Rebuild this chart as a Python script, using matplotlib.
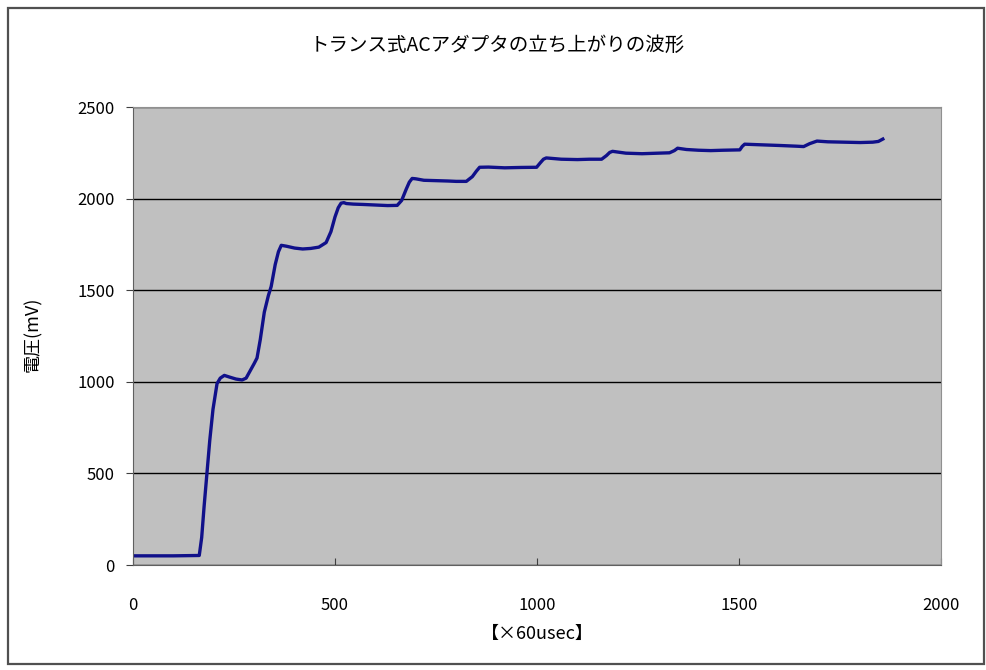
import matplotlib
matplotlib.use('Agg')
from matplotlib import pyplot as plt
from matplotlib.patches import Rectangle

plt.rcParams['font.family'] = ['Noto Sans CJK JP', 'DejaVu Sans']

# waveform (x in 60usec units, y in mV)
t = [0, 100, 164, 170, 176, 183, 190, 198, 208, 216, 226, 240, 255, 270, 280,
     290, 300, 307, 315, 325, 335, 342, 352, 360, 367, 380, 400, 420, 440, 460,
     478, 490, 500, 508, 515, 522, 528, 545, 570, 600, 630, 654, 665, 676, 684,
     691, 700, 720, 750, 780, 800, 825, 840, 850, 858, 880, 920, 960, 999, 1008,
     1016, 1023, 1060, 1100, 1130, 1160, 1172, 1180, 1187, 1220, 1260, 1300, 1328,
     1340, 1348, 1370, 1400, 1430, 1460, 1502, 1508, 1514, 1550, 1600, 1643, 1660,
     1675, 1693, 1720, 1760, 1800, 1831, 1845, 1856]
mv = [50, 50, 52, 150, 320, 500, 680, 850, 990, 1020, 1035, 1025, 1015, 1010, 1020,
      1060, 1100, 1130, 1230, 1380, 1470, 1520, 1640, 1710, 1745, 1740, 1730, 1725, 1728, 1735,
      1760, 1820, 1900, 1950, 1975, 1978, 1973, 1970, 1968, 1965, 1962, 1963, 1990, 2050, 2090,
      2110, 2108, 2100, 2098, 2096, 2094, 2094, 2120, 2150, 2171, 2172, 2168, 2170, 2171, 2195,
      2215, 2222, 2215, 2213, 2215, 2215, 2235, 2252, 2258, 2248, 2245, 2248, 2250,
      2262, 2275, 2268, 2264, 2262, 2264, 2266, 2285, 2297, 2294, 2290, 2286, 2284,
      2300, 2314, 2310, 2308, 2306, 2308, 2312, 2325]

xticks = [0, 500, 1000, 1500, 2000]
yticks = [0, 500, 1000, 1500, 2000, 2500]

fig = plt.figure(figsize=(9.87, 6.70), dpi=100)
fig.patches.append(Rectangle((8 / 987, 1 - 664 / 670), 976 / 987, 656 / 670,
                             transform=fig.transFigure, fill=False,
                             edgecolor='#505050', linewidth=1.6))

ax = fig.add_axes([133 / 987, 1 - 565 / 670, 808 / 987, 458 / 670])
ax.set_facecolor('#c0c0c0')
ax.plot(t, mv, color='#10108a', linewidth=2.4, solid_joinstyle='round')

ax.set_xlim(0, 2000)
ax.set_ylim(0, 2500)
ax.set_xticks(xticks)
ax.set_yticks(yticks)
ax.yaxis.grid(True, color='black', linewidth=1.0)
ax.set_axisbelow(True)
for side in ['top', 'right']:
    ax.spines[side].set_color('#909090')
for side in ['left', 'bottom']:
    ax.spines[side].set_color('#606060')
ax.tick_params(axis='both', labelsize=12, length=5, color='#404040', pad=8)
ax.tick_params(axis='x', direction='in', pad=23)

fig.text(497 / 987, 1 - 45 / 670, 'トランス式ACアダプタの立ち上がりの波形',
         ha='center', va='center', fontsize=14)
ax.set_xlabel('【×60usec】', fontsize=13, labelpad=8)
fig.text(33 / 987, 1 - 334 / 670, '電圧(mV)', rotation=90,
         ha='center', va='center', fontsize=13)

fig.savefig('out.png', dpi=100)
